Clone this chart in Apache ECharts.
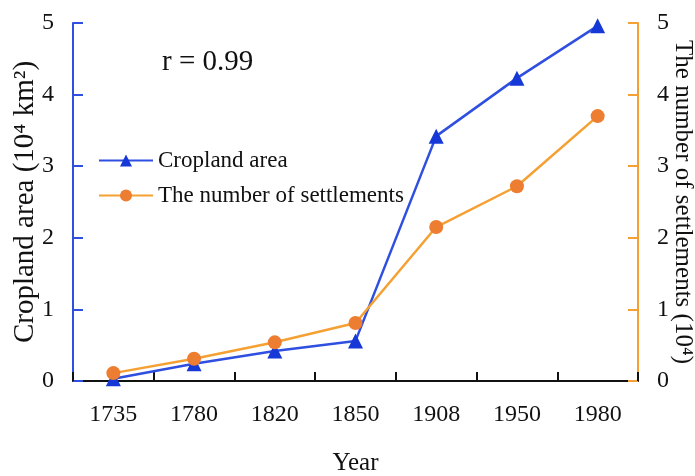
<!DOCTYPE html>
<html>
<head>
<meta charset="utf-8">
<script src="https://cdn.jsdelivr.net/npm/echarts@6/dist/echarts.min.js"></script>
<style>
  html, body { margin: 0; padding: 0; background: #fff; }
  #chart { width: 695px; height: 476px; }
</style>
</head>
<body>
<div id="chart"></div>
<script>
// data
var years = ['1735', '1780', '1820', '1850', '1908', '1950', '1980'];
var cropland = [0.03, 0.24, 0.42, 0.56, 3.42, 4.23, 4.96];
var settlements = [0.11, 0.31, 0.54, 0.81, 2.15, 2.72, 3.70];

var serif = '"Liberation Serif", "DejaVu Serif", serif';
var blue = '#2f4fe0';
var blueMark = '#1538d6';
var orange = '#f5a033';
var orangeMark = '#ed7d31';

var chart = echarts.init(document.getElementById('chart'));

var option = {
  animation: false,
  textStyle: { fontFamily: serif, color: '#111' },
  grid: { left: 73, right: 57, top: 23, bottom: 95, containLabel: false, outerBoundsMode: 'none' },
  legend: {
    orient: 'vertical',
    left: 93,
    top: 144,
    itemWidth: 54,
    itemHeight: 15,
    itemGap: 12,
    textStyle: { fontFamily: serif, fontSize: 23, color: '#111' },
    data: ['Cropland area', 'The number of settlements']
  },
  graphic: [{
    type: 'text',
    left: 162,
    top: 48,
    style: { text: 'r = 0.99', font: '29px ' + serif, fill: '#111' }
  }],
  xAxis: {
    type: 'category',
    data: years,
    boundaryGap: true,
    name: 'Year',
    nameLocation: 'middle',
    nameGap: 70,
    nameMoveOverlap: false,
    nameTextStyle: { fontSize: 25, color: '#111' },
    axisLine: { lineStyle: { color: '#111', width: 2 } },
    axisTick: { show: true, inside: true, length: 9, lineStyle: { color: '#111', width: 2 } },
    axisLabel: { fontSize: 24, color: '#111', margin: 22 }
  },
  yAxis: [{
    type: 'value',
    min: 0,
    max: 5,
    interval: 1,
    name: 'Cropland area (10⁴ km²)',
    nameLocation: 'middle',
    nameGap: 33,
    nameMoveOverlap: false,
    nameTextStyle: { fontSize: 29, color: '#111' },
    axisLine: { show: true, lineStyle: { color: blue, width: 2 } },
    axisTick: { show: true, inside: true, length: 10, lineStyle: { color: blue, width: 2 } },
    axisLabel: { fontSize: 24, color: '#111', margin: 19 },
    splitLine: { show: false }
  }, {
    type: 'value',
    min: 0,
    max: 5,
    interval: 1,
    position: 'right',
    name: 'The number of settlements (10⁴)',
    nameLocation: 'middle',
    nameRotate: -90,
    nameGap: 32,
    nameMoveOverlap: false,
    nameTextStyle: { fontSize: 25, color: '#111' },
    axisLine: { show: true, lineStyle: { color: orange, width: 2 } },
    axisTick: { show: true, inside: true, length: 10, lineStyle: { color: orange, width: 2 } },
    axisLabel: { fontSize: 24, color: '#111', margin: 19 },
    splitLine: { show: false }
  }],
  series: [{
    name: 'Cropland area',
    type: 'line',
    yAxisIndex: 0,
    data: cropland,
    symbol: 'triangle',
    symbolSize: 15,
    lineStyle: { color: blue, width: 2.5 },
    itemStyle: { color: blueMark },
    z: 2
  }, {
    name: 'The number of settlements',
    type: 'line',
    yAxisIndex: 1,
    data: settlements,
    symbol: 'circle',
    symbolSize: 14,
    lineStyle: { color: orange, width: 2.5 },
    itemStyle: { color: orangeMark },
    z: 3
  }]
};

chart.setOption(option);
</script>
</body>
</html>
